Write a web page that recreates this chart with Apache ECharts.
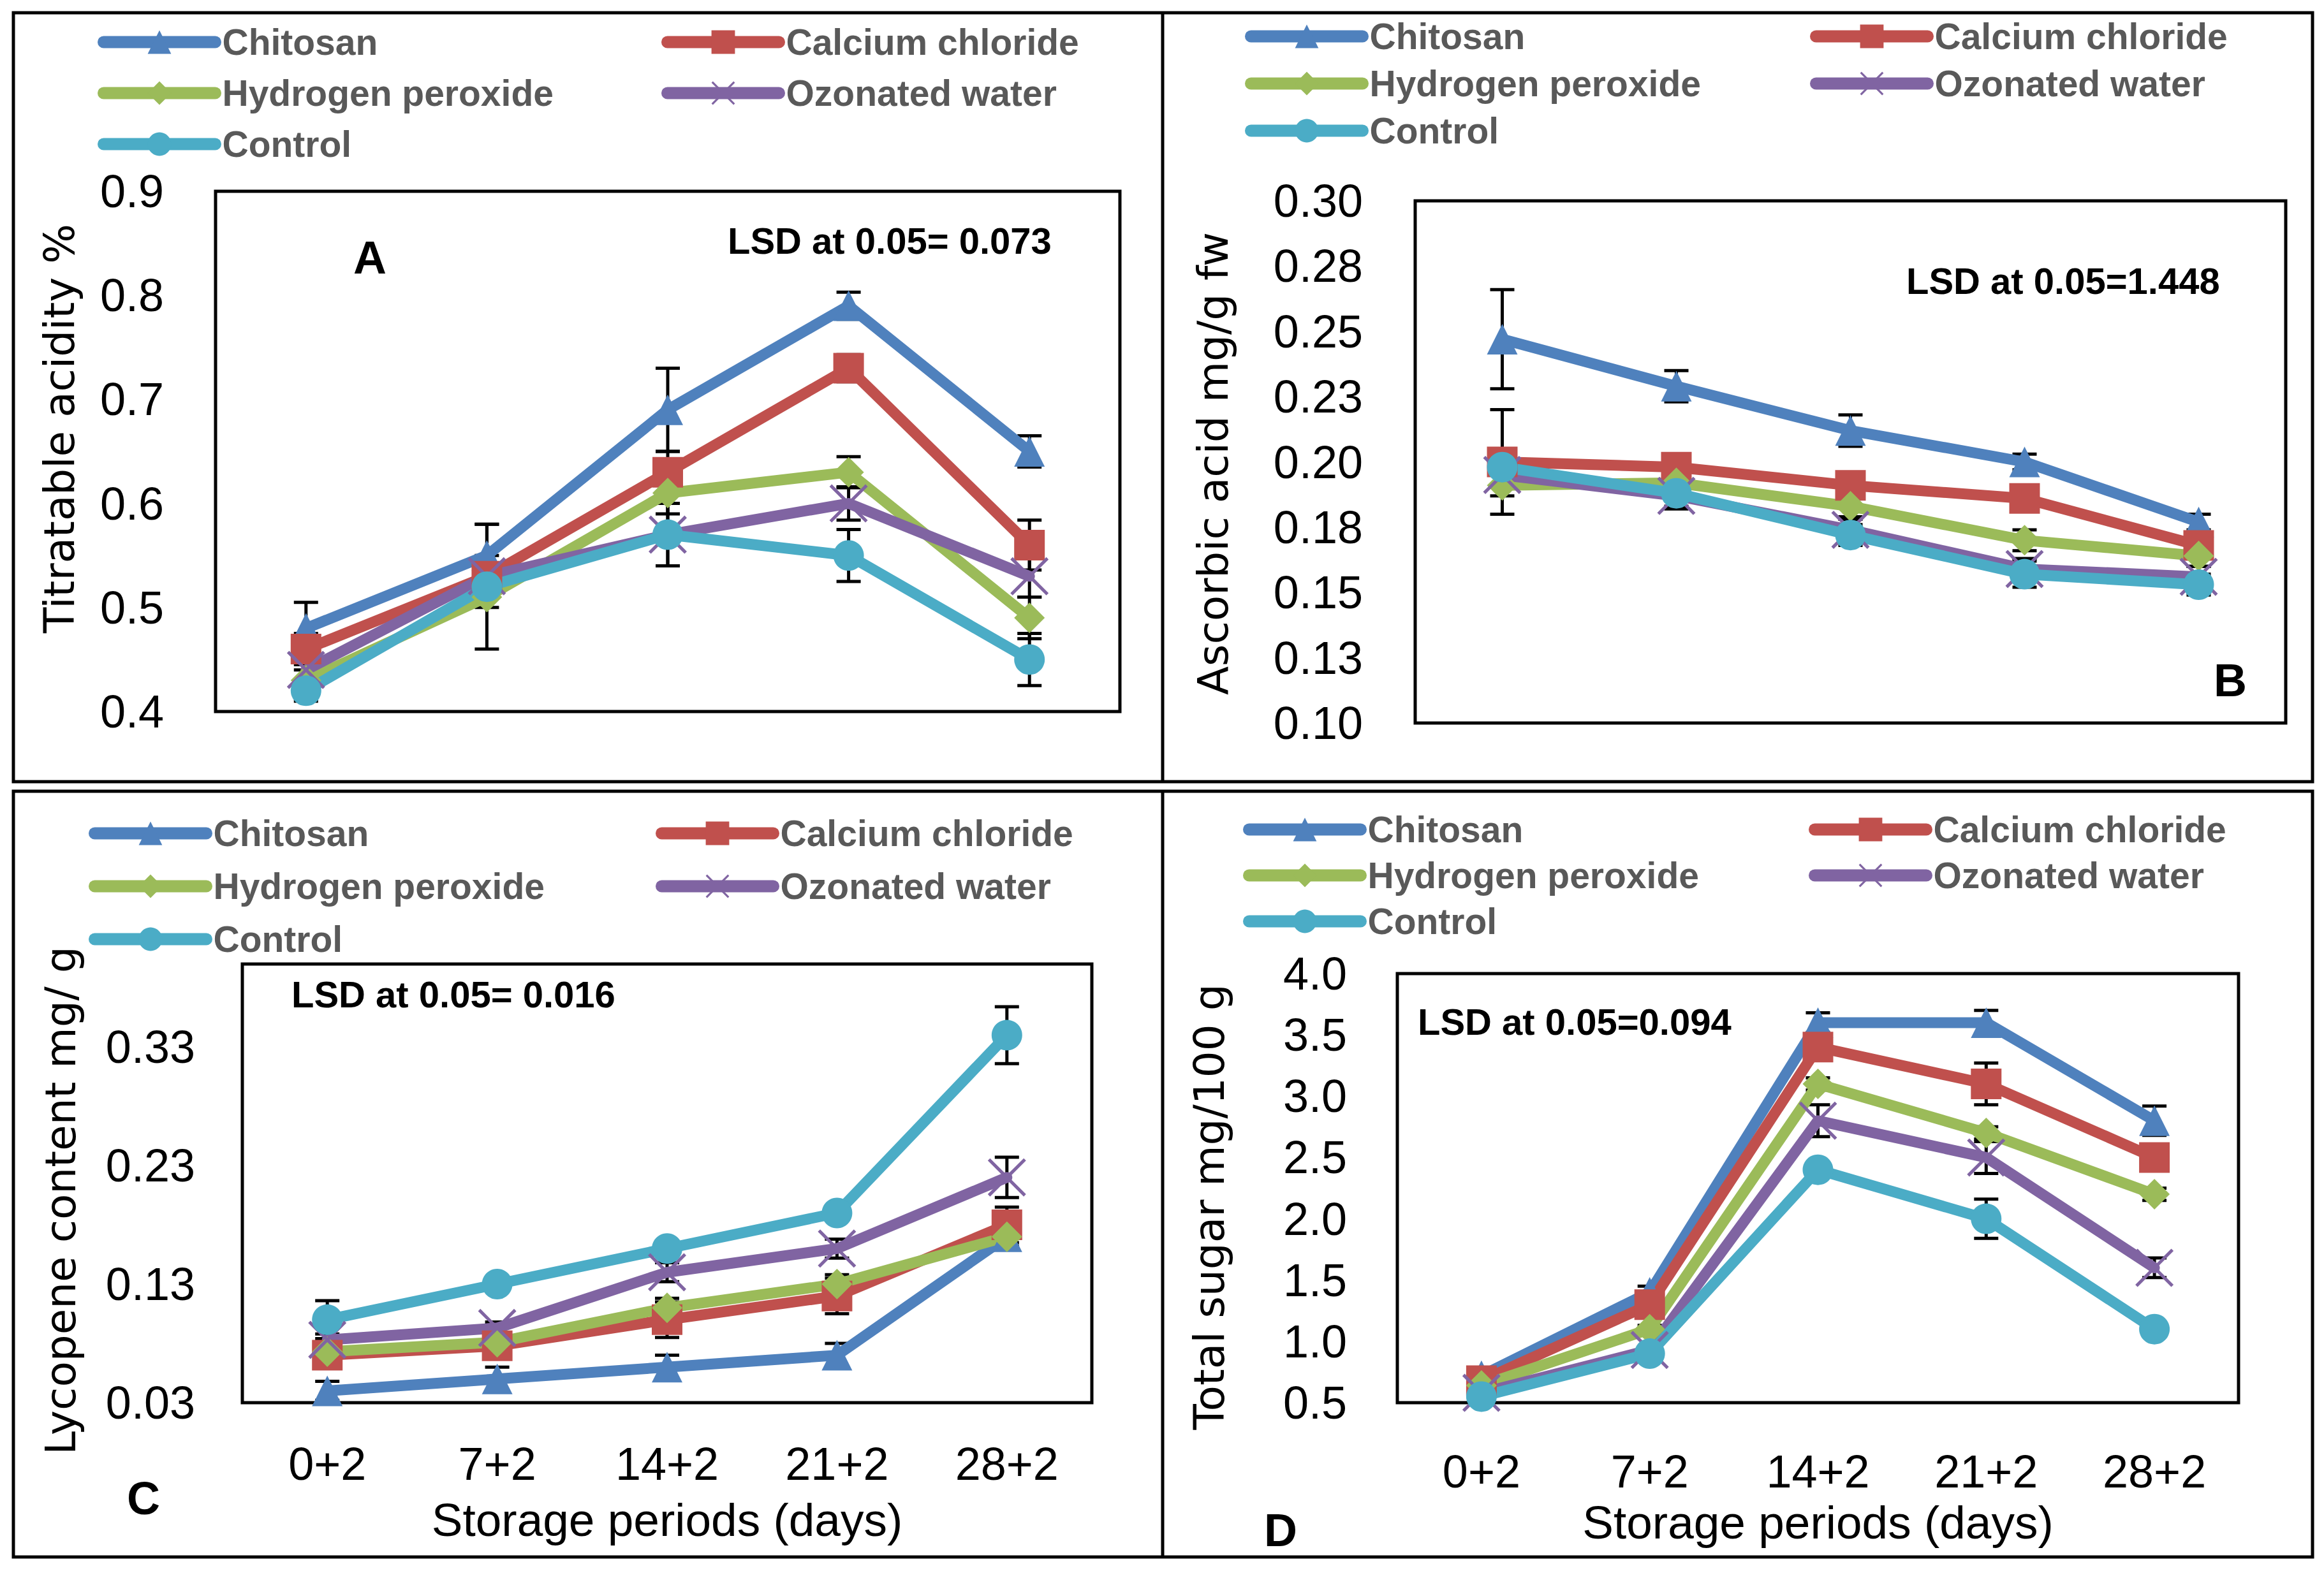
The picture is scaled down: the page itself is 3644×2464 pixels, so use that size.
<!DOCTYPE html>
<html><head><meta charset="utf-8">
<script src="https://cdn.jsdelivr.net/npm/echarts@6/dist/echarts.min.js"></script>
<style>html,body{margin:0;padding:0;background:#fff}#c{width:3644px;height:2464px}</style>
</head><body><div id="c"></div><script>
// ---------- data ----------
const categories = ['0+2', '7+2', '14+2', '21+2', '28+2'];
const seriesNames = ['Chitosan', 'Calcium chloride', 'Hydrogen peroxide', 'Ozonated water', 'Control'];

// Panel A: Titratable acidity %
const chitosanA  = [0.48, 0.55, 0.69, 0.79, 0.65];
const calciumA   = [0.46, 0.53, 0.63, 0.73, 0.56];
const hydrogenA  = [0.43, 0.51, 0.61, 0.63, 0.49];
const ozonatedA  = [0.44, 0.53, 0.57, 0.60, 0.53];
const controlA   = [0.42, 0.52, 0.57, 0.55, 0.45];
const errChitosanA = [0.025, 0.03, 0.04, 0.013, 0.015];
const errCalciumA  = [0.015, 0.02, 0.02, 0.013, 0.024];
const errHydrogenA = [0.01, 0.01, 0.02, 0.015, 0.02];
const errOzonatedA = [0.01, 0.01, 0.03, 0.016, 0.02];
const errControlA  = [0.01, 0.06, 0.03, 0.025, 0.025];
const yTicksA = ['0.4', '0.5', '0.6', '0.7', '0.8', '0.9'];

// Panel B: Ascorbic acid mg/g fw
const chitosanB  = [0.247, 0.229, 0.212, 0.200, 0.177];
const calciumB   = [0.200, 0.198, 0.191, 0.186, 0.168];
const hydrogenB  = [0.191, 0.192, 0.183, 0.170, 0.164];
const ozonatedB  = [0.195, 0.187, 0.174, 0.159, 0.156];
const controlB   = [0.198, 0.188, 0.172, 0.157, 0.153];
const errChitosanB = [0.019, 0.006, 0.006, 0.003, 0.003];
const errCalciumB  = [0.02, 0.004, 0.004, 0.004, 0.004];
const errHydrogenB = [0.004, 0.004, 0.004, 0.004, 0.004];
const errOzonatedB = [0.004, 0.004, 0.004, 0.004, 0.004];
const errControlB  = [0.003, 0.006, 0.004, 0.005, 0.004];
const yTicksB = ['0.10', '0.13', '0.15', '0.18', '0.20', '0.23', '0.25', '0.28', '0.30'];

// Panel C: Lycopene content mg/ g
const chitosanC  = [0.04, 0.05, 0.06, 0.07, 0.17];
const calciumC   = [0.07, 0.078, 0.10, 0.12, 0.18];
const hydrogenC  = [0.073, 0.081, 0.11, 0.13, 0.17];
const ozonatedC  = [0.083, 0.093, 0.14, 0.16, 0.22];
const controlC   = [0.10, 0.13, 0.16, 0.19, 0.34];
const errChitosanC = [0.008, 0.01, 0.01, 0.01, 0.01];
const errCalciumC  = [0.006, 0.006, 0.015, 0.015, 0.015];
const errHydrogenC = [0.005, 0.005, 0.008, 0.008, 0.008];
const errOzonatedC = [0.005, 0.005, 0.008, 0.008, 0.017];
const errControlC  = [0.016, 0.005, 0.005, 0.005, 0.024];
const yTicksC = ['0.03', '0.13', '0.23', '0.33'];

// Panel D: Total sugar mg/100 g
const chitosanD  = [0.72, 1.40, 3.60, 3.60, 2.80];
const calciumD   = [0.68, 1.30, 3.40, 3.10, 2.50];
const hydrogenD  = [0.64, 1.10, 3.10, 2.70, 2.20];
const ozonatedD  = [0.58, 0.93, 2.80, 2.50, 1.60];
const controlD   = [0.55, 0.90, 2.40, 2.00, 1.10];
const errChitosanD = [0.05, 0.05, 0.08, 0.10, 0.12];
const errCalciumD  = [0.03, 0.05, 0.05, 0.17, 0.05];
const errHydrogenD = [0.03, 0.03, 0.05, 0.05, 0.05];
const errOzonatedD = [0.03, 0.03, 0.13, 0.13, 0.08];
const errControlD  = [0.03, 0.03, 0.05, 0.16, 0.05];
const yTicksD = ['0.5', '1.0', '1.5', '2.0', '2.5', '3.0', '3.5', '4.0'];

// ---------- styles / layout ----------
const colors = ['#4F81BD', '#C0504D', '#9BBB59', '#8064A2', '#4BACC6'];
const xPath = 'path://M0,0.6L0.6,0L5,4.4L9.4,0L10,0.6L5.6,5L10,9.4L9.4,10L5,5.6L0.6,10L0,9.4L4.4,5Z';
const symbols = ['triangle', 'rect', 'diamond', xPath, 'circle'];
const symbolSizes = [[48, 48], [48, 48], [48, 48], [60, 60], [48, 48]];

const panels = [
  { values: [chitosanA, calciumA, hydrogenA, ozonatedA, controlA],
    errors: [errChitosanA, errCalciumA, errHydrogenA, errOzonatedA, errControlA],
    y: { min: 0.4, max: 0.9, interval: 0.1, ticks: yTicksA },
    grid: { left: 338, top: 300, width: 1418, height: 816 }, labelMargin: 81, showX: false,
    legend: { c1: 148, c2: 1032, top: 31, gap: 20 },
    yTitle: { text: 'Titratable acidity %', x: 93, y: 672 },
    tag: { text: 'A', x: 580, y: 404 },
    lsd: { text: 'LSD at 0.05= 0.073', x: 1141, y: 377 } },
  { values: [chitosanB, calciumB, hydrogenB, ozonatedB, controlB],
    errors: [errChitosanB, errCalciumB, errHydrogenB, errOzonatedB, errControlB],
    y: { min: 0.1, max: 0.3, interval: 0.025, ticks: yTicksB },
    grid: { left: 2219, top: 315, width: 1365, height: 819 }, labelMargin: 82, showX: false,
    legend: { c1: 1947, c2: 2833, top: 22, gap: 14 },
    yTitle: { text: 'Ascorbic acid mg/g fw', x: 1902, y: 727 },
    tag: { text: 'B', x: 3497, y: 1067 },
    lsd: { text: 'LSD at 0.05=1.448', x: 2989, y: 440 } },
  { values: [chitosanC, calciumC, hydrogenC, ozonatedC, controlC],
    errors: [errChitosanC, errCalciumC, errHydrogenC, errOzonatedC, errControlC],
    y: { min: 0.03, max: 0.40, interval: 0.1, ticks: yTicksC },
    grid: { left: 380, top: 1512, width: 1332, height: 688 }, labelMargin: 74, showX: true, xMargin: 60, xNameGap: 183,
    legend: { c1: 134, c2: 1023, top: 1272, gap: 23 },
    yTitle: { text: 'Lycopene content mg/ g', x: 95, y: 1883 },
    tag: { text: 'C', x: 225, y: 2350 },
    lsd: { text: 'LSD at 0.05= 0.016', x: 457, y: 1559 } },
  { values: [chitosanD, calciumD, hydrogenD, ozonatedD, controlD],
    errors: [errChitosanD, errCalciumD, errHydrogenD, errOzonatedD, errControlD],
    y: { min: 0.5, max: 4.0, interval: 0.5, ticks: yTicksD },
    grid: { left: 2191, top: 1527, width: 1319, height: 673 }, labelMargin: 79, showX: true, xMargin: 72, xNameGap: 187,
    legend: { c1: 1944, c2: 2831, top: 1266, gap: 12 },
    yTitle: { text: 'Total sugar mg/100 g', x: 1896, y: 1893 },
    tag: { text: 'D', x: 2008, y: 2400 },
    lsd: { text: 'LSD at 0.05=0.094', x: 2223, y: 1602 } }
];

const tickFont = 'Liberation Sans';
const grids = [], xAxes = [], yAxes = [], series = [], legends = [], graphics = [];

function legendCfg(left, top, gap, names) {
  return {
    left: left, top: top, orient: 'vertical', itemGap: gap, itemWidth: 175, itemHeight: 46,
    data: names, selectedMode: false,
    lineStyle: { width: 19, cap: 'round' },
    textStyle: { fontSize: 57, fontWeight: 'bold', color: '#595959', fontFamily: tickFont, lineHeight: 60, padding: [0, 0, 0, 6] }
  };
}

panels.forEach((p, i) => {
  grids.push(Object.assign({ show: true, borderColor: '#000', borderWidth: 5, backgroundColor: 'transparent', outerBoundsMode: 'none', containLabel: false }, p.grid));
  xAxes.push({
    type: 'category', gridIndex: i, data: categories, boundaryGap: true,
    axisLine: { show: false }, axisTick: { show: false }, splitLine: { show: false },
    axisLabel: { show: p.showX, fontSize: 72, color: '#000', fontFamily: tickFont, margin: p.xMargin || 8, interval: 0 },
    name: p.showX ? 'Storage periods (days)' : '', nameLocation: 'middle', nameGap: p.xNameGap || 0,
    nameTextStyle: { fontSize: 73, color: '#000', fontFamily: tickFont, verticalAlign: 'middle' }
  });
  const y = p.y;
  yAxes.push({
    type: 'value', gridIndex: i, min: y.min, max: y.max, interval: y.interval,
    axisLine: { show: false }, axisTick: { show: false }, splitLine: { show: false },
    axisLabel: {
      fontSize: 72, color: '#000', fontFamily: tickFont, margin: p.labelMargin, showMaxLabel: true,
      formatter: function (v) {
        const k = Math.round((v - y.min) / y.interval);
        return (Math.abs(v - (y.min + k * y.interval)) < 1e-6 && k >= 0 && k < y.ticks.length) ? y.ticks[k] : '';
      }
    }
  });
  // error bars first (drawn beneath lines and markers)
  p.values.forEach((vals, k) => {
    const errs = p.errors[k];
    series.push({
      type: 'custom', name: 'err-' + i + '-' + k, xAxisIndex: i, yAxisIndex: i, z: 1, silent: true, clip: false,
      data: vals.map((v, j) => [j, v, errs[j]]),
      encode: { x: 0, y: 1 },
      renderItem: function (params, api) {
        const x = api.value(0), v = api.value(1), e = api.value(2);
        if (!e) return { type: 'group', children: [] };
        const t = api.coord([x, v + e]), b = api.coord([x, v - e]);
        const hw = 19, st = { stroke: '#000', lineWidth: 5 };
        return { type: 'group', children: [
          { type: 'line', shape: { x1: t[0], y1: t[1], x2: b[0], y2: b[1] }, style: st },
          { type: 'line', shape: { x1: t[0] - hw, y1: t[1], x2: t[0] + hw, y2: t[1] }, style: st },
          { type: 'line', shape: { x1: b[0] - hw, y1: b[1], x2: b[0] + hw, y2: b[1] }, style: st }
        ] };
      }
    });
  });
  p.values.forEach((vals, k) => {
    series.push({
      type: 'line', name: seriesNames[k], xAxisIndex: i, yAxisIndex: i, data: vals,
      symbol: symbols[k], symbolSize: symbolSizes[k], showAllSymbol: true,
      lineStyle: { color: colors[k], width: 17, cap: 'round', join: 'round' },
      itemStyle: { color: colors[k], borderWidth: 0 },
      z: 2, silent: true
    });
  });
  legends.push(legendCfg(p.legend.c1, p.legend.top, p.legend.gap, [seriesNames[0], seriesNames[2], seriesNames[4]]));
  legends.push(legendCfg(p.legend.c2, p.legend.top, p.legend.gap, [seriesNames[1], seriesNames[3]]));
  graphics.push({ type: 'text', x: p.yTitle.x, y: p.yTitle.y, rotation: Math.PI / 2, silent: true,
    style: { text: p.yTitle.text, font: '66px "DejaVu Sans"', fill: '#000', align: 'center', verticalAlign: 'middle' } });
  graphics.push({ type: 'text', x: p.tag.x, y: p.tag.y, silent: true,
    style: { text: p.tag.text, font: 'bold 72px "Liberation Sans"', fill: '#000', align: 'center', verticalAlign: 'middle' } });
  graphics.push({ type: 'text', x: p.lsd.x, y: p.lsd.y, silent: true,
    style: { text: p.lsd.text, font: 'bold 58px "Liberation Sans"', fill: '#000', align: 'left', verticalAlign: 'middle' } });
});

// panel frames
graphics.push({ type: 'rect', shape: { x: 21, y: 20, width: 3605, height: 1206 }, style: { fill: 'none', stroke: '#000', lineWidth: 5 }, silent: true });
graphics.push({ type: 'rect', shape: { x: 21, y: 1241, width: 3605, height: 1201 }, style: { fill: 'none', stroke: '#000', lineWidth: 5 }, silent: true });
graphics.push({ type: 'line', shape: { x1: 1823, y1: 20, x2: 1823, y2: 1226 }, style: { stroke: '#000', lineWidth: 5 }, silent: true });
graphics.push({ type: 'line', shape: { x1: 1823, y1: 1241, x2: 1823, y2: 2442 }, style: { stroke: '#000', lineWidth: 5 }, silent: true });

const chart = echarts.init(document.getElementById('c'), null, { renderer: 'svg', width: 3644, height: 2464 });
chart.setOption({
  backgroundColor: '#fff',
  animation: false,
  grid: grids, xAxis: xAxes, yAxis: yAxes, series: series, legend: legends, graphic: graphics,
  tooltip: { show: false }
});
</script></body></html>
